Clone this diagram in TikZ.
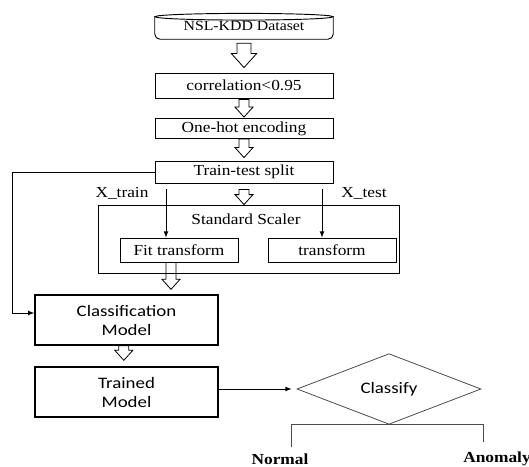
\documentclass[tikz,border=0pt]{standalone}
\usepackage{fontspec}
\setmainfont{Liberation Serif}[FakeStretch=1.13]
\newfontfamily\calfont{Carlito}[FakeStretch=1.18]
\usetikzlibrary{calc,shapes.geometric}

% hollow block arrow from the first point down to the second
\newcommand{\blockarrow}[3][1]{%
  \draw[line width=0.6pt] let \p1=(#2), \p2=(#3) in
    (\x1-3.75pt*#1,\y1) -- (\x1+3.75pt*#1,\y1) -- (\x1+3.75pt*#1,\y2+7.5pt*#1)
    -- (\x1+6.75pt*#1,\y2+7.5pt*#1) -- (\x1,\y2) -- (\x1-6.75pt*#1,\y2+7.5pt*#1)
    -- (\x1-3.75pt*#1,\y2+7.5pt*#1) -- cycle;}

\begin{document}
\begin{tikzpicture}[x=0.75pt,y=-0.75pt,
    serif/.style={font=\fontsize{11.5}{13}\selectfont},
    box/.style={draw,line width=0.6pt,inner sep=0pt,serif},
    sbox/.style={draw,line width=1pt,inner sep=0pt,align=center,
      minimum width=137.25pt,minimum height=37.5pt,
      font=\calfont\fontsize{12}{14.25}\selectfont},
    conn/.style={-latex,line width=0.6pt}]
  \useasboundingbox (0,0) rectangle (529,467);

  % dataset
  \node[minimum width=133.5pt,minimum height=19.5pt,inner sep=0pt,
    font=\fontsize{10.5}{12}\selectfont] (ds) at (244,26) {NSL-KDD Dataset};
  \draw[line width=0.7pt,rounded corners=4pt] ([yshift=-3pt]ds.north west)
    -- (ds.south west) -- (ds.south east) -- ([yshift=-3pt]ds.north east);
  \draw[line width=0.7pt] ([yshift=-3pt]ds.north) ellipse [x radius=66.75pt,y radius=2.5pt];

  % preprocessing
  \node[box,minimum width=133.5pt,minimum height=18.75pt] (corr) at (244,85.5) {correlation<0.95};
  \node[box,minimum width=133.5pt,minimum height=15pt] (onehot) at (244,128.5) {One-hot encoding};
  \node[box,minimum width=133.5pt,minimum height=16.5pt] (split) at (244,172) {Train-test split};

  % scaler
  \node[draw,line width=0.6pt,minimum width=225.75pt,minimum height=51pt] (scaler) at (248.5,239) {};
  \node[serif] (sslab) at (246,219) {Standard Scaler};
  \node[box,minimum width=88.5pt,minimum height=18pt] (fit) at (179,250) {Fit transform};
  \node[box,minimum width=96pt,minimum height=18pt] (tr) at (332,250) {transform};
  \node[serif] (xtrain) at (122,193) {X\_train};
  \node[serif] (xtest) at (364,193) {X\_test};
  \coordinate (ta) at (166,189);
  \coordinate (tb) at (322,189);

  % model
  \node[sbox] (cls) at (126.5,320) {Classification\\Model};
  \node[sbox] (trained) at (126.5,392) {Trained\\Model};
  \node[diamond,draw=black!70,line width=0.6pt,minimum width=138pt,minimum height=40.5pt,
    inner sep=0pt,font=\calfont\fontsize{12}{14}\selectfont] (cf) at (389,389) {Classify};
  \node[font=\bfseries\fontsize{11.5}{13}\selectfont] (normal) at (280,459) {Normal};
  \node[font=\bfseries\fontsize{11.5}{13}\selectfont] (anomaly) at (497,459) {Anomaly};
  \coordinate (nl) at (291,447);
  \coordinate (al) at (483,442);

  \blockarrow[1.4]{[yshift=-3pt]ds.south}{[yshift=3.75pt]corr.north}
  \blockarrow{[yshift=-0.75pt]corr.south}{[yshift=0.75pt]onehot.north}
  \blockarrow{onehot.south}{[yshift=2.25pt]split.north}
  \blockarrow{[yshift=-4.5pt]split.south}{scaler.north}
  \blockarrow{[xshift=-6pt]fit.south}{[yshift=3.75pt]cls.north}
  \blockarrow{[xshift=-2pt]cls.south}{[yshift=4.5pt]trained.north}

  \draw[conn] (ta) -- (ta |- fit.north);
  \draw[conn] (tb) -- (tb |- tr.north);
  \draw[conn] (split.west) -- ++(-142,0) |- ([yshift=5.25pt]cls.west);
  \draw[conn] (trained.east |- cf.west) -- ([xshift=-3.75pt]cf.west);
  \draw[line width=0.6pt,black!70] (nl) |- (cf.south) -| (al);
\end{tikzpicture}
\end{document}
